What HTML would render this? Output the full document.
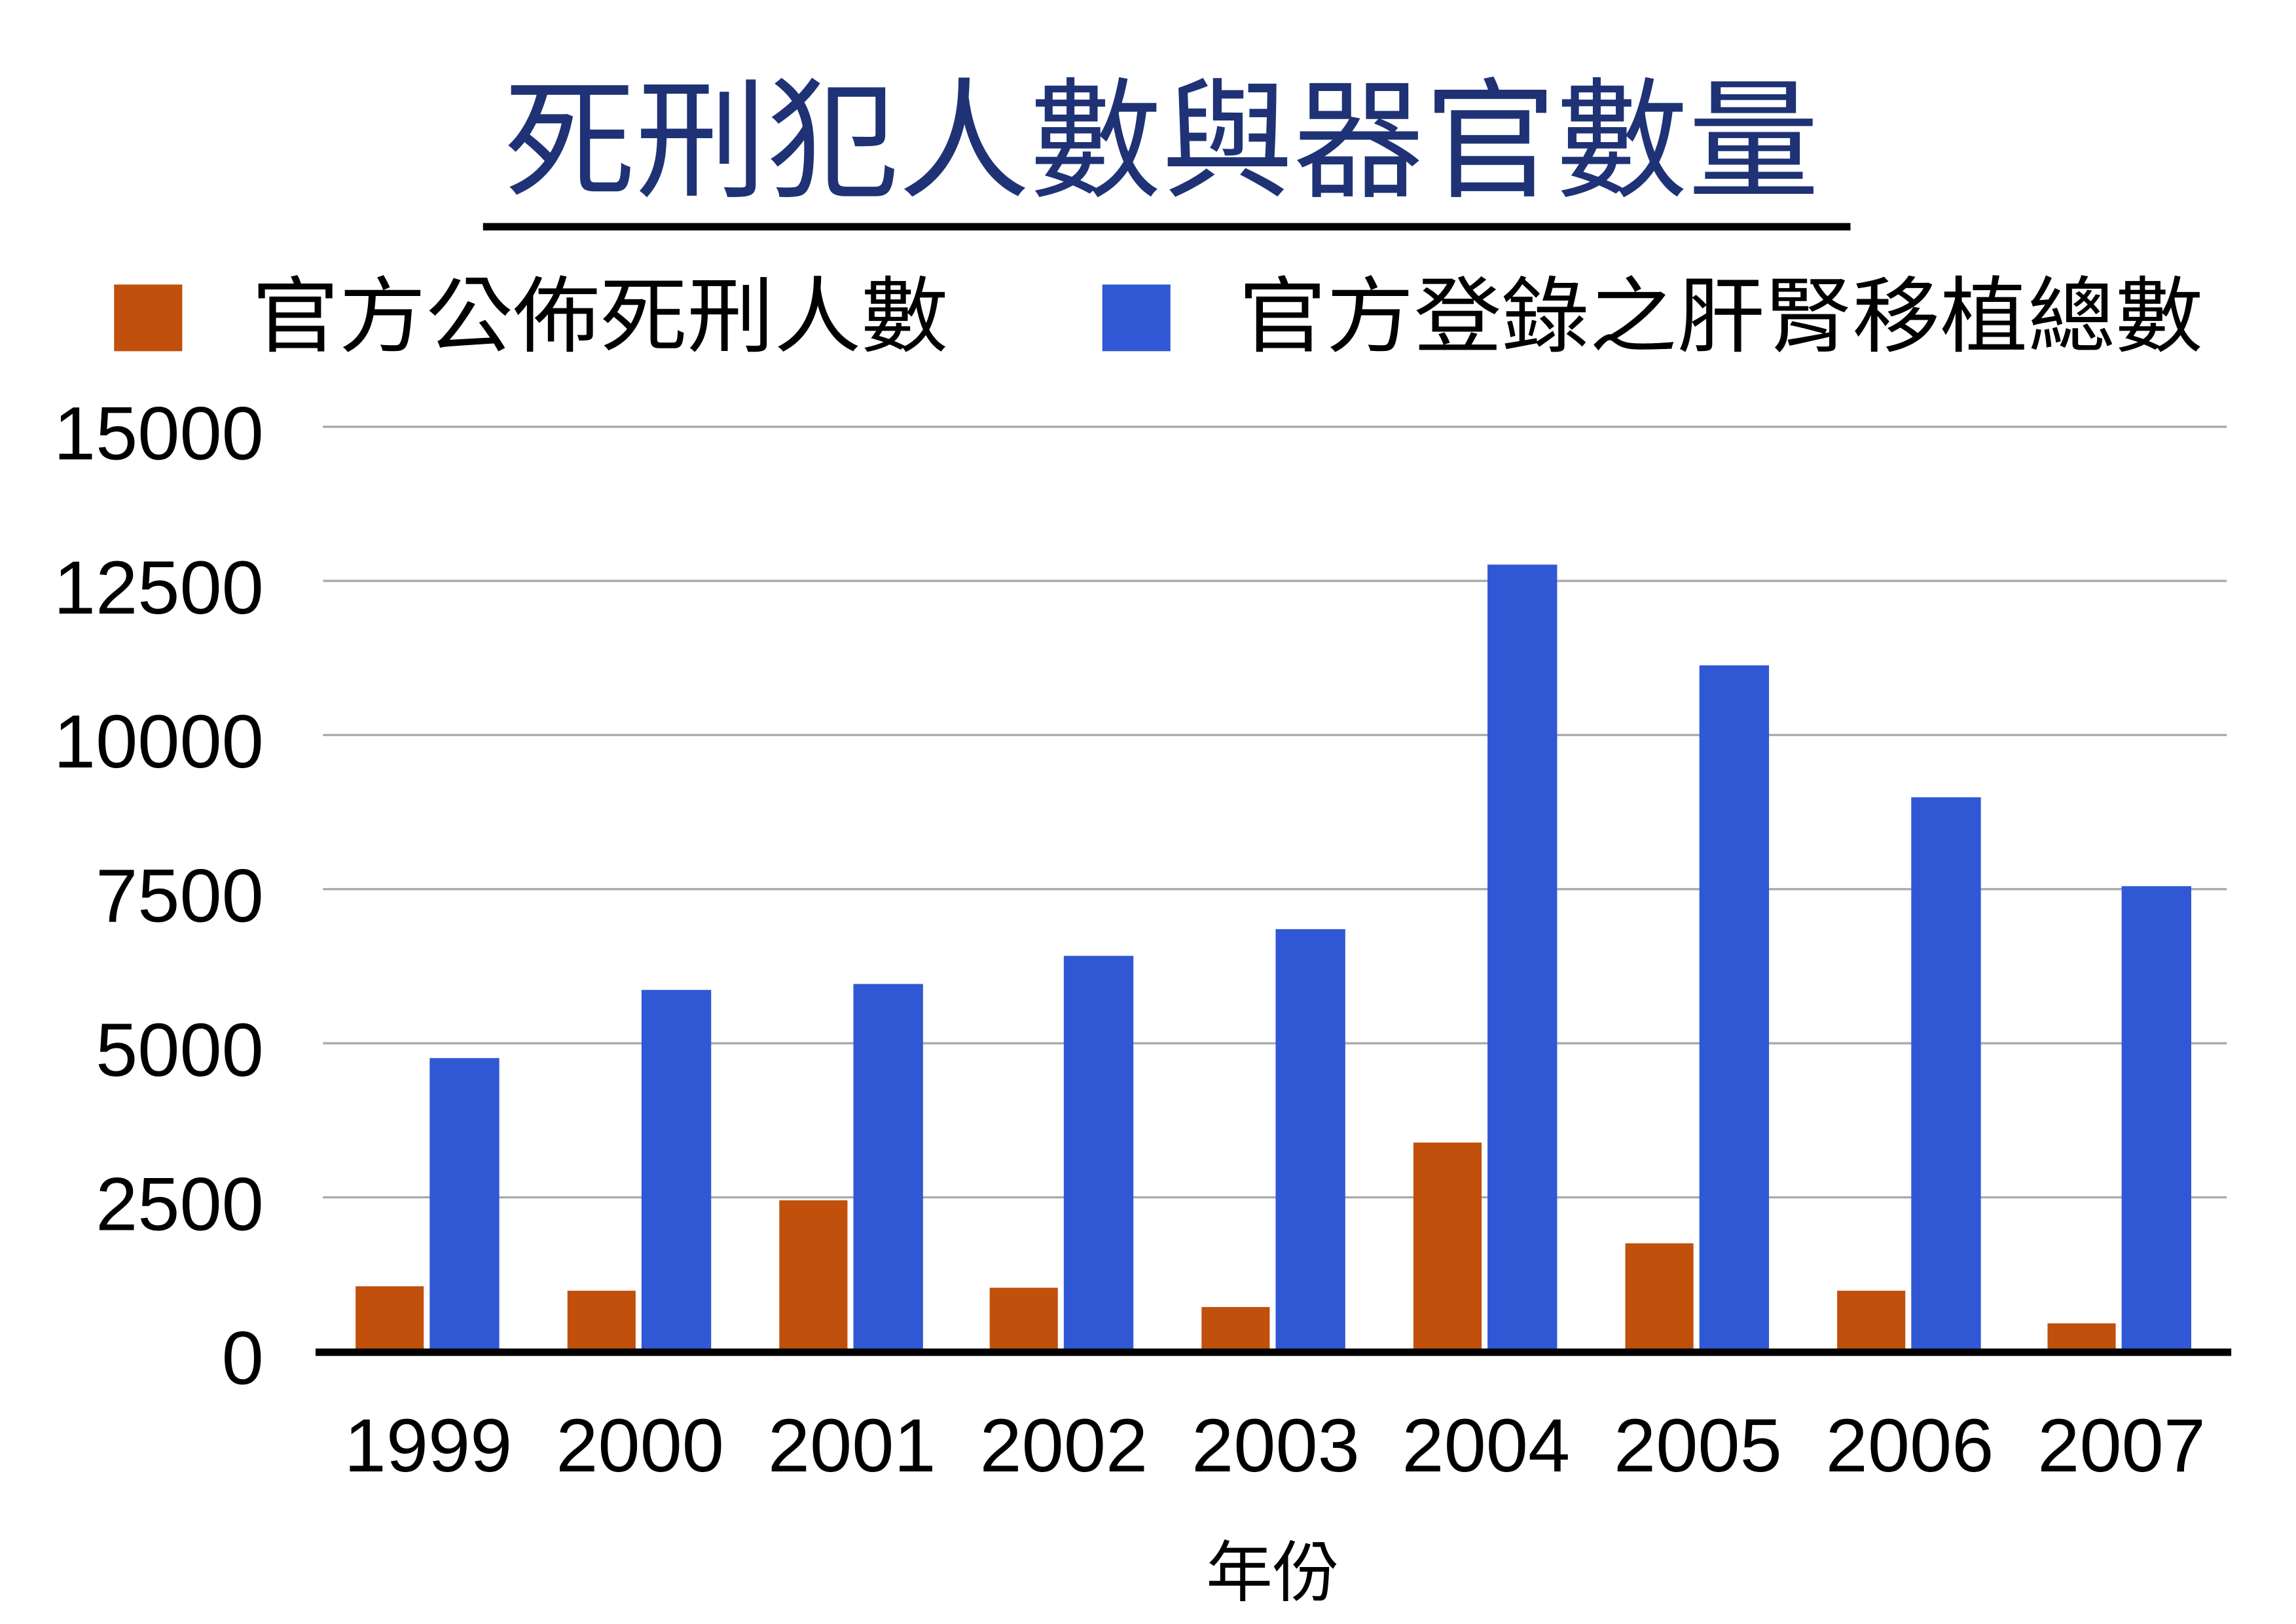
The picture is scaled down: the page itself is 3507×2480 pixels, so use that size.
<!DOCTYPE html>
<html><head><meta charset="utf-8"><style>
html,body{margin:0;padding:0;background:#fff;}
svg{display:block;}
text{font-family:"Liberation Sans","Noto Sans CJK TC",sans-serif;}
</style></head><body>
<svg width="3507" height="2480" viewBox="0 0 1549.7 1095.9" preserveAspectRatio="none" xmlns="http://www.w3.org/2000/svg">
<rect width="1549.7" height="1095.9" fill="#fff"/>
<text x="784" y="126" font-size="88" fill="#1F3275" text-anchor="middle" textLength="888" lengthAdjust="spacingAndGlyphs">死刑犯人數與器官數量</text>
<rect x="326" y="150.5" width="923" height="5" fill="#000"/>
<rect x="77" y="192" width="46" height="45" fill="#C0500C"/>
<text x="170" y="233" font-size="56" fill="#000" textLength="470" lengthAdjust="spacingAndGlyphs">官方公佈死刑人數</text>
<rect x="744" y="192" width="46" height="45" fill="#3158D4"/>
<text x="836" y="233" font-size="56" fill="#000" textLength="651" lengthAdjust="spacingAndGlyphs">官方登錄之肝腎移植總數</text>
<g stroke="#aaa" stroke-width="1.5">
<line x1="218" y1="288" x2="1503" y2="288"/>
<line x1="218" y1="392" x2="1503" y2="392"/>
<line x1="218" y1="496" x2="1503" y2="496"/>
<line x1="218" y1="600" x2="1503" y2="600"/>
<line x1="218" y1="704" x2="1503" y2="704"/>
<line x1="218" y1="808" x2="1503" y2="808"/>
</g>
<g font-size="51" text-anchor="end" fill="#000">
<text x="178" y="310">15000</text>
<text x="178" y="414">12500</text>
<text x="178" y="518">10000</text>
<text x="178" y="622">7500</text>
<text x="178" y="726">5000</text>
<text x="178" y="830">2500</text>
<text x="178" y="934">0</text>
</g>
<g fill="#C0500C">
<rect x="240" y="868" width="46" height="44"/>
<rect x="383" y="871" width="46" height="41"/>
<rect x="526" y="810" width="46" height="102"/>
<rect x="668" y="869" width="46" height="43"/>
<rect x="811" y="882" width="46" height="30"/>
<rect x="954" y="771" width="46" height="141"/>
<rect x="1097" y="839" width="46" height="73"/>
<rect x="1240" y="871" width="46" height="41"/>
<rect x="1382" y="893" width="46" height="19"/>
</g>
<g fill="#3158D4">
<rect x="290" y="714" width="47" height="198"/>
<rect x="433" y="668" width="47" height="244"/>
<rect x="576" y="664" width="47" height="248"/>
<rect x="718" y="645" width="47" height="267"/>
<rect x="861" y="627" width="47" height="285"/>
<rect x="1004" y="381" width="47" height="531"/>
<rect x="1147" y="449" width="47" height="463"/>
<rect x="1290" y="538" width="47" height="374"/>
<rect x="1432" y="598" width="47" height="314"/>
</g>
<rect x="213" y="910" width="1293" height="5" fill="#000"/>
<g font-size="51" text-anchor="middle" fill="#000">
<text x="289" y="993">1999</text>
<text x="432" y="993">2000</text>
<text x="575" y="993">2001</text>
<text x="718" y="993">2002</text>
<text x="861" y="993">2003</text>
<text x="1003" y="993">2004</text>
<text x="1146" y="993">2005</text>
<text x="1289" y="993">2006</text>
<text x="1432" y="993">2007</text>
</g>
<text x="859" y="1077" font-size="45" text-anchor="middle" fill="#000">年份</text>
</svg>
</body></html>
